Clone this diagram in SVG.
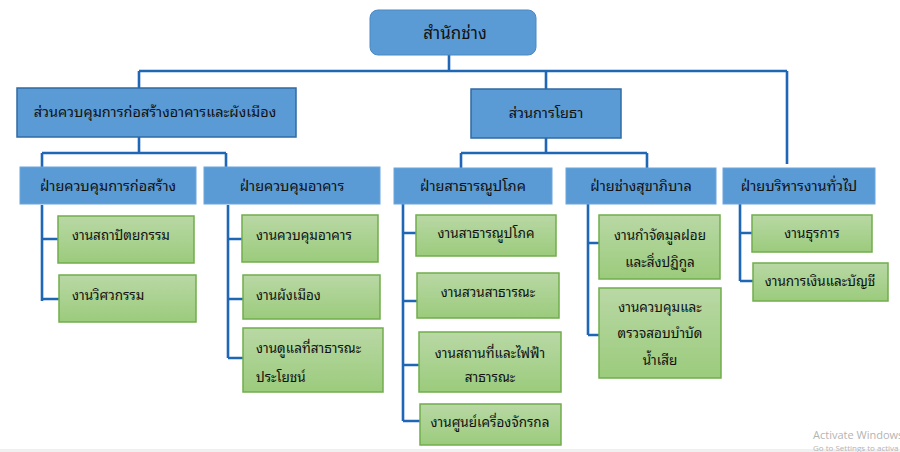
<svg xmlns="http://www.w3.org/2000/svg" width="900" height="452" viewBox="0 0 900 452">
<defs>
<linearGradient id="g" x1="0" y1="0" x2="0" y2="1">
<stop offset="0" stop-color="#b9d8a5"/>
<stop offset="1" stop-color="#9bcb7c"/>
</linearGradient>
<style>
text{font-family:"Noto Sans Thai Looped","Noto Serif Thai","Noto Sans Thai","Tahoma","Leelawadee UI","DejaVu Sans",sans-serif;fill:#111;}
.top{fill:#5b9bd5;stroke:#4a88c2;stroke-width:1}
.sec{fill:#5b9bd5;stroke:#2f6aa3;stroke-width:1.5}
.dep{fill:#5b9bd5;stroke:#6aa6dc;stroke-width:1}
.leaf{fill:url(#g);stroke:#72ad4c;stroke-width:1.5}
.ln{fill:none;stroke:#1f67b5;stroke-width:2.6}
.c{text-anchor:middle}
.t1{font-size:17px}
.t2{font-size:14.5px}
.t2d{font-size:14.5px}
.t3{font-size:13.5px}
.wm{font-family:"Open Sans","Noto Sans",sans-serif;fill:#b4b4b4}
</style>
</defs>
<rect x="0" y="0" width="900" height="452" fill="#ffffff"/>
<g id="connectors">
<path class="ln" d="M449 55V71M139 71H787M139 71V88M546 71V89M787 71V164"/>
<path class="ln" d="M139 137V153M42 153H226M42 153V167M226 153V167"/>
<path class="ln" d="M546 138V153M461 153H647M461 153V168M647 153V168"/>
<path class="ln" d="M42 205V301M42 239H58M42 299H59"/>
<path class="ln" d="M228 205V358M228 239H242M228 299H243M228 358H243"/>
<path class="ln" d="M403 204V421M403 233H416M403 301H417M403 365H419M403 421H420"/>
<path class="ln" d="M588 204V335M588 243H599M588 335H599"/>
<path class="ln" d="M740 204V281M740 233H752M740 281H753"/>
</g>
<g id="n-top">
<rect class="top" x="370" y="10" width="166" height="45" rx="8"/>
<text class="t1 c" x="455" y="39">สำนักช่าง</text>
</g>
<g id="n-sec1">
<rect class="sec" x="17" y="88" width="279" height="49"/>
<text class="t2 c" x="155" y="117">ส่วนควบคุมการก่อสร้างอาคารและผังเมือง</text>
</g>
<g id="n-sec2">
<rect class="sec" x="471" y="89" width="150" height="49"/>
<text class="t2 c" x="546" y="118">ส่วนการโยธา</text>
</g>
<g id="n-dep1">
<rect class="dep" x="20" y="167" width="176" height="37"/>
<text class="t2d c" x="108" y="191">ฝ่ายควบคุมการก่อสร้าง</text>
</g>
<g id="n-dep2">
<rect class="dep" x="204" y="167" width="176" height="37"/>
<text class="t2d c" x="292" y="191">ฝ่ายควบคุมอาคาร</text>
</g>
<g id="n-dep3">
<rect class="dep" x="394" y="168" width="158" height="36"/>
<text class="t2d c" x="473" y="191">ฝ่ายสาธารณูปโภค</text>
</g>
<g id="n-dep4">
<rect class="dep" x="566" y="168" width="150" height="36"/>
<text class="t2d c" x="641" y="191">ฝ่ายช่างสุขาภิบาล</text>
</g>
<g id="n-dep5">
<rect class="dep" x="723" y="168" width="152" height="36"/>
<text class="t2d c" x="799" y="191">ฝ่ายบริหารงานทั่วไป</text>
</g>
<g id="n-l1">
<rect class="leaf" x="58" y="216" width="136" height="47"/>
<text class="t3" x="72" y="240">งานสถาปัตยกรรม</text>
</g>
<g id="n-l2">
<rect class="leaf" x="59" y="275" width="137" height="47"/>
<text class="t3" x="72" y="300">งานวิศวกรรม</text>
</g>
<g id="n-l3">
<rect class="leaf" x="242" y="215" width="136" height="47"/>
<text class="t3" x="256" y="240">งานควบคุมอาคาร</text>
</g>
<g id="n-l4">
<rect class="leaf" x="243" y="275" width="137" height="44"/>
<text class="t3" x="256" y="300">งานผังเมือง</text>
</g>
<g id="n-l5">
<rect class="leaf" x="243" y="328" width="140" height="64"/>
<text class="t3" x="256" y="353">งานดูแลที่สาธารณะ</text>
<text class="t3" x="256" y="382">ประโยชน์</text>
</g>
<g id="n-l6">
<rect class="leaf" x="416" y="215" width="140" height="41"/>
<text class="t3 c" x="486" y="238">งานสาธารณูปโภค</text>
</g>
<g id="n-l7">
<rect class="leaf" x="417" y="273" width="142" height="45"/>
<text class="t3 c" x="488" y="297">งานสวนสาธารณะ</text>
</g>
<g id="n-l8">
<rect class="leaf" x="419" y="332" width="142" height="60"/>
<text class="t3 c" x="490" y="358">งานสถานที่และไฟฟ้า</text>
<text class="t3 c" x="490" y="382">สาธารณะ</text>
</g>
<g id="n-l9">
<rect class="leaf" x="420" y="404" width="141" height="41"/>
<text class="t3 c" x="490" y="427">งานศูนย์เครื่องจักรกล</text>
</g>
<g id="n-l10">
<rect class="leaf" x="599" y="215" width="121" height="64"/>
<text class="t3 c" x="660" y="240">งานกำจัดมูลฝอย</text>
<text class="t3 c" x="660" y="267">และสิ่งปฏิกูล</text>
</g>
<g id="n-l11">
<rect class="leaf" x="599" y="288" width="122" height="90"/>
<text class="t3 c" x="660" y="312">งานควบคุมและ</text>
<text class="t3 c" x="660" y="338">ตรวจสอบบำบัด</text>
<text class="t3 c" x="660" y="365">น้ำเสีย</text>
</g>
<g id="n-l12">
<rect class="leaf" x="752" y="215" width="120" height="37"/>
<text class="t3 c" x="812" y="238">งานธุรการ</text>
</g>
<g id="n-l13">
<rect class="leaf" x="753" y="263" width="135" height="38"/>
<text class="t3 c" x="820" y="286">งานการเงินและบัญชี</text>
</g>
<rect x="0" y="449" width="900" height="3" fill="#f0f0f0"/>
<text class="wm" x="813" y="439" font-size="11">Activate Windows</text>
<text class="wm" x="813" y="451" font-size="8">Go to Settings to activa</text>
</svg>
